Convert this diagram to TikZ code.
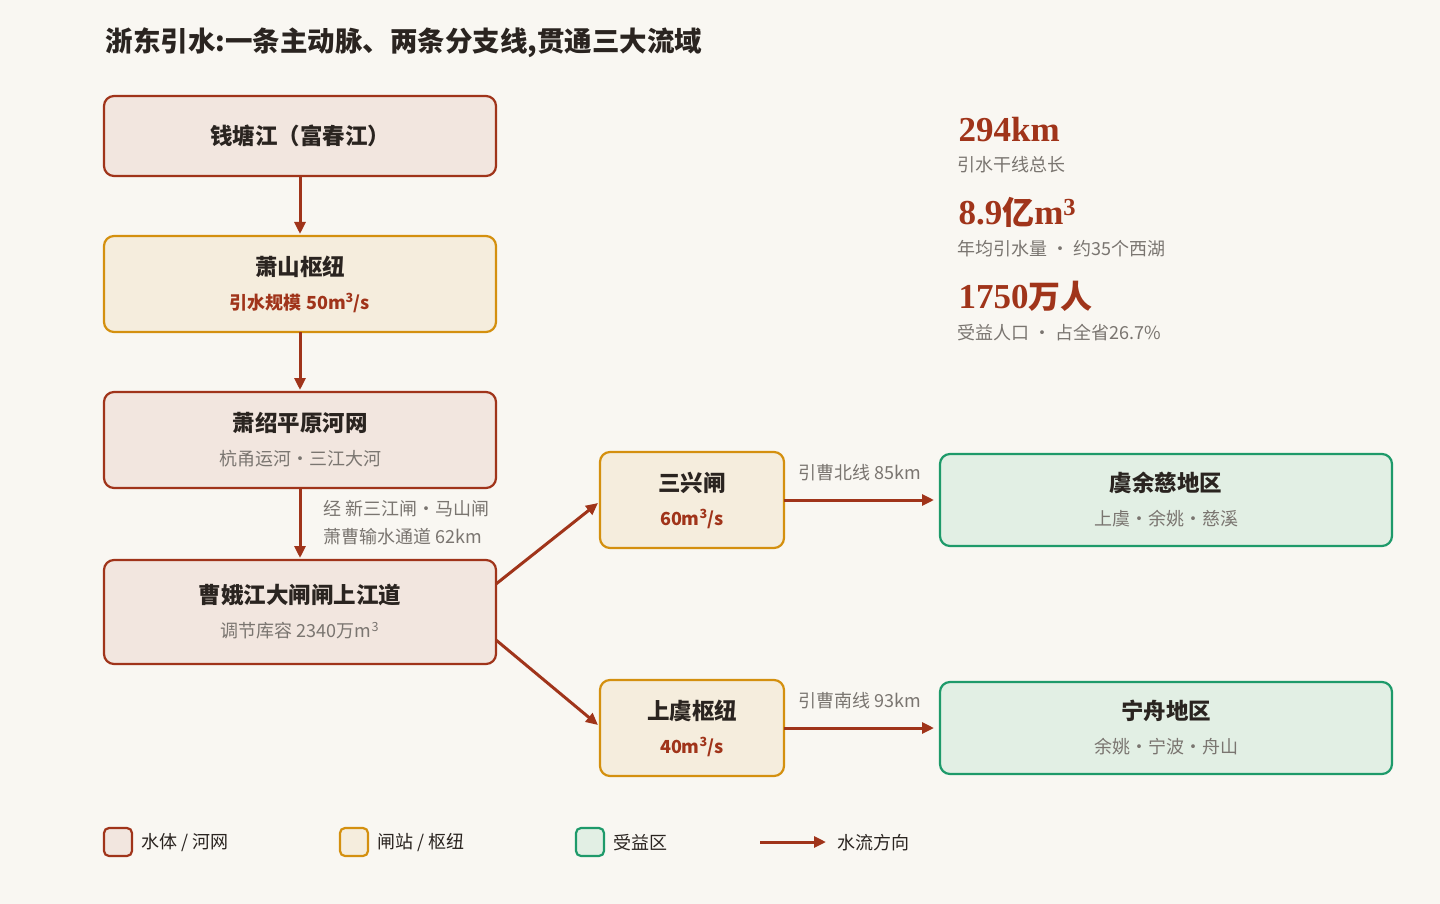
\documentclass[tikz,border=0pt]{standalone}
\usepackage{fontspec}
\setmainfont{Noto Sans CJK SC}
\newfontfamily\numf{Liberation Serif}
\usetikzlibrary{arrows.meta}
\definecolor{bg}{HTML}{F9F7F2}
\definecolor{rd}{HTML}{A0341A}
\definecolor{wf}{HTML}{F2E6DF}
\definecolor{hb}{HTML}{D4900F}
\definecolor{hf}{HTML}{F5EDDD}
\definecolor{gb}{HTML}{1E9A6A}
\definecolor{gf}{HTML}{E2EFE4}
\definecolor{tx}{HTML}{2A2420}
\definecolor{gr}{HTML}{7A7570}
\begin{document}
\begin{tikzpicture}[x=1pt,y=-1pt,
 box/.style={rounded corners=10pt,line width=2.2pt},
 wat/.style={box,draw=rd,fill=wf},
 hub/.style={box,draw=hb,fill=hf},
 ben/.style={box,draw=gb,fill=gf},
 ttl/.style={font=\fontsize{22.5}{26}\selectfont\bfseries,text=tx},
 sub/.style={font=\fontsize{18}{21}\selectfont,text=gr},
 subr/.style={font=\fontsize{18}{21}\selectfont\bfseries,text=rd},
 lab/.style={font=\fontsize{18}{21}\selectfont,text=gr,anchor=west},
 flow/.style={draw=rd,line width=3pt,-{Triangle[length=12pt,width=11pt]}},
 big/.style={font=\numf\fontsize{35}{38}\selectfont\bfseries,text=rd,anchor=west},
 stl/.style={font=\fontsize{18}{21}\selectfont,text=gr,anchor=west}]
\fill[bg] (0,0) rectangle (1440,904);
\useasboundingbox (0,0) rectangle (1440,904);
\node[anchor=west,font=\fontsize{27.5}{31}\selectfont\bfseries,text=tx] (title) at (102,43) {浙东引水:一条主动脉、两条分支线,贯通三大流域};
% boxes
\draw[wat] (104,96) rectangle (496,176); \node[ttl] (b1) at (300,136) {钱塘江（富春江）};
\draw[hub] (104,236) rectangle (496,332); \node[ttl] (b2) at (300,267) {萧山枢纽}; \node[subr] (b2s) at (300,303) {引水规模 50m\textsuperscript{3}/s};
\draw[wat] (104,392) rectangle (496,488); \node[ttl] (b3) at (300,423) {萧绍平原河网}; \node[sub] (b3s) at (300,459) {杭甬运河·三江大河};
\draw[wat] (104,560) rectangle (496,664); \node[ttl] (b4) at (300,595) {曹娥江大闸闸上江道}; \node[sub] (b4s) at (300,631) {调节库容 2340万m\textsuperscript{3}};
\draw[hub] (600,452) rectangle (784,548); \node[ttl] (s1) at (692,483) {三兴闸}; \node[subr] (s1s) at (692,519) {60m\textsuperscript{3}/s};
\draw[hub] (600,680) rectangle (784,776); \node[ttl] (s2) at (692,711) {上虞枢纽}; \node[subr] (s2s) at (692,747) {40m\textsuperscript{3}/s};
\draw[ben] (940,454) rectangle (1392,546); \node[ttl] (g1) at (1166,483) {虞余慈地区}; \node[sub] (g1s) at (1166,519) {上虞·余姚·慈溪};
\draw[ben] (940,682) rectangle (1392,774); \node[ttl] (g2) at (1166,711) {宁舟地区}; \node[sub] (g2s) at (1166,747) {余姚·宁波·舟山};
% anchors
\coordinate (a1) at (300,176); \coordinate (a2) at (300,234);
\coordinate (a3) at (300,332); \coordinate (a4) at (300,390);
\coordinate (a5) at (300,488); \coordinate (a6) at (300,558);
\coordinate (d1) at (496,584); \coordinate (d2) at (598,503);
\coordinate (d3) at (496,640); \coordinate (d4) at (598,725);
\coordinate (h1) at (784,500); \coordinate (h2) at (934,500);
\coordinate (h3) at (784,728); \coordinate (h4) at (934,728);
\draw[flow] (a1)--(a2); \draw[flow] (a3)--(a4); \draw[flow] (a5)--(a6);
\draw[flow] (d1)--(d2); \draw[flow] (d3)--(d4);
\draw[flow] (h1)--(h2); \draw[flow] (h3)--(h4);
\node[lab] (n1) at (320,509) {经 新三江闸·马山闸};
\node[lab] (n2) at (320,537) {萧曹输水通道 62km};
\node[font=\fontsize{18}{21}\selectfont,text=gr] (l1) at (860,473) {引曹北线 85km};
\node[font=\fontsize{18}{21}\selectfont,text=gr] (l2) at (860,701) {引曹南线 93km};
% stats
\node[big] (k1) at (955,130) {294km};
\node[stl] (k1s) at (954,165) {引水干线总长};
\node[big] (k2) at (955,212) {8.9{\fontspec{Noto Sans CJK SC}\fontsize{32}{36}\selectfont\bfseries 亿}m\textsuperscript{3}};
\node[stl] (k2s) at (954,249) {年均引水量 · 约35个西湖};
\node[big] (k3) at (955,296) {1750{\fontspec{Noto Sans CJK SC}\fontsize{32}{36}\selectfont\bfseries 万人}};
\node[stl] (k3s) at (954,333) {受益人口 · 占全省26.7\%};
% legend
\draw[wat,rounded corners=5pt] (104,828) rectangle (132,856); \node[lab,text=tx] (lg1) at (138,843) {水体 / 河网};
\draw[hub,rounded corners=5pt] (340,828) rectangle (368,856); \node[lab,text=tx] (lg2) at (374,843) {闸站 / 枢纽};
\draw[ben,rounded corners=5pt] (576,828) rectangle (604,856); \node[lab,text=tx] (lg3) at (610,843) {受益区};
\coordinate (e1) at (760,842); \coordinate (e2) at (826,842);
\draw[flow] (e1)--(e2); \node[lab,text=tx] (lg4) at (834,843) {水流方向};
\end{tikzpicture}
\end{document}
